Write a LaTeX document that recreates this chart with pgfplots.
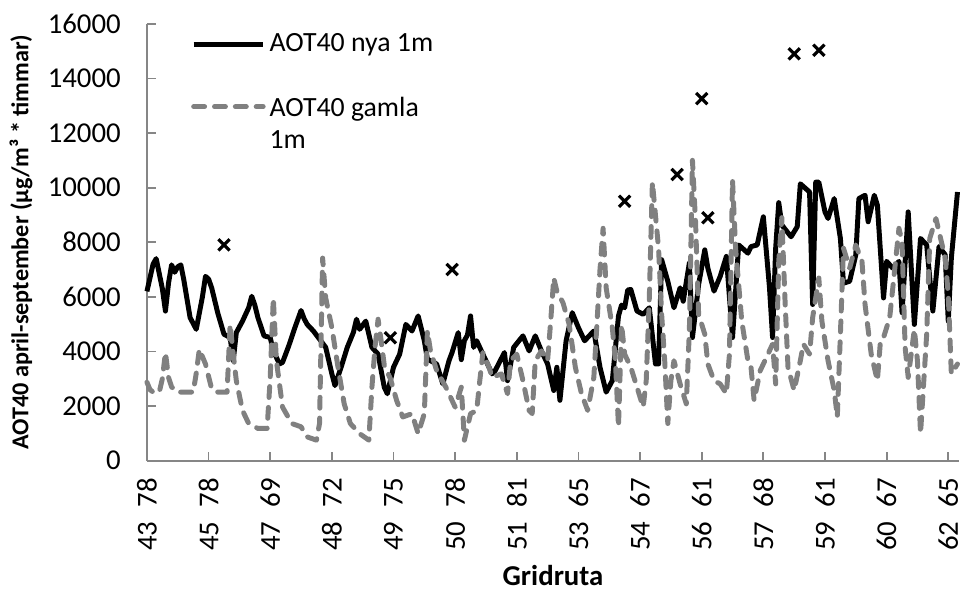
\documentclass[border=0pt]{standalone}
\usepackage{fontspec}
\setmainfont{Carlito}
\usepackage{pgfplots}
\pgfplotsset{compat=1.18}
\usepackage{pgfplotstable}
\definecolor{dgray}{RGB}{128,128,128}
\definecolor{axgray}{RGB}{134,134,134}

\pgfplotstableread{
x y
0 6200
2 7200
3 7400
5 6300
6 5480
7 6500
8 7170
9 6900
10 7100
11 7170
12 6600
14 5240
16 4810
18 6000
19 6750
20 6650
21 6330
23 5400
25 4630
27 4510
28 3660
29 4690
31 5110
33 5600
34 6020
35 5700
36 5240
38 4570
40 4510
41 4020
43 3540
44 3600
46 4200
48 4870
50 5500
51 5200
52 4990
54 4750
56 4450
58 4150
60 3180
61 2750
63 3420
65 4150
67 4700
68 5180
69 4810
71 5110
73 4150
75 3900
77 2690
78 2450
80 3420
82 3900
84 4990
86 4750
88 5300
90 4390
91 3720
94 3540
96 2810
98 3660
99 3960
101 4690
102 3700
103 4400
104 4600
105 5300
106 4150
107 4390
109 3900
112 3180
113 3300
116 3960
117 2930
119 4150
122 4570
124 4020
126 4570
128 4020
130 3540
132 2570
133 3420
134 2210
136 4390
138 5420
140 4870
142 4390
145 4750
147 3420
149 2510
151 2930
153 5300
154 5700
155 5600
156 6250
157 6270
159 5480
161 5360
163 5600
165 3540
166 3540
167 7360
169 6570
171 5600
173 6330
174 5840
176 7240
177 4510
179 6450
181 7720
182 7050
184 6210
186 6750
188 7480
190 4510
192 7900
195 7600
196 7840
198 7900
200 8930
202 6330
203 4510
204 7780
205 9450
206 8630
209 8200
211 8570
212 10140
215 9840
216 5720
217 10200
218 10200
220 9110
221 8870
223 9600
225 8140
226 6500
228 6570
230 7540
231 9600
233 9720
234 8750
236 9720
237 9360
239 5960
240 7300
242 7050
244 7300
245 5420
247 9110
249 4990
251 8140
253 7900
255 5480
257 7840
259 7540
260 5110
261 7420
263 9840
}\nya

\pgfplotstableread{
x y
0 2870
1 2600
2 2510
4 2510
5 3000
6 3960
7 3050
8 2700
10 2510
15 2510
16 3200
17 4080
19 3540
21 2630
23 2510
26 2510
27 4990
28 3900
29 2930
31 1840
33 1360
36 1180
39 1180
40 3050
41 5960
42 3660
44 1960
47 1360
50 1240
52 870
55 750
56 1360
57 7420
58 5960
60 4870
62 3420
64 2080
66 1360
69 990
72 750
73 2690
74 4150
75 5180
76 4390
77 3500
79 3000
81 2210
83 1600
86 1720
88 990
90 1720
91 4750
92 4020
94 3300
97 2690
100 1960
102 2690
103 750
105 1720
107 1840
108 2930
109 3960
111 3420
112 3050
115 3180
117 2450
118 3660
120 3900
122 2930
124 1840
125 1720
126 3660
128 4020
130 3660
131 5110
132 6690
133 6210
135 5780
137 4990
139 3420
141 2450
143 1840
145 3050
146 4990
147 7000
148 8510
149 6330
151 4870
152 3660
153 1240
154 4990
155 3900
157 3420
159 2690
161 1960
162 2930
163 5960
164 10200
166 7780
167 5360
168 3660
169 1360
170 2930
171 3660
173 2810
175 2080
176 4750
177 11000
178 8750
179 5360
181 4630
182 3540
184 2930
186 2810
188 2450
189 3900
190 10270
191 7780
193 5110
195 3660
196 3420
197 2210
199 3300
201 3780
203 4270
204 2810
205 7300
206 8900
207 5960
208 3420
210 2570
212 3660
213 4270
215 3900
216 5240
218 6690
219 5110
221 3660
223 2570
224 1600
225 4630
226 7780
228 7050
230 7900
232 7300
233 5720
235 3900
237 2930
238 4390
239 4510
241 5240
242 6330
244 8510
245 8020
246 4150
247 3050
249 4810
250 3660
251 990
253 4630
254 8140
256 8870
259 7420
260 6080
261 3180
263 3540
}\gamla

\pgfplotstableread{
x y
25 7900
79 4500
99 7000
155 9500
172 10480
180 13260
182 8900
210 14900
218 15030
}\matt

\begin{document}
\fontsize{14.5}{17.5}\selectfont
\begin{tikzpicture}
\begin{axis}[
  scale only axis,
  width=409pt, height=220pt,
  xmin=0, xmax=263.5,
  ymin=0, ymax=16000,
  axis x line*=bottom, axis y line*=left,
  axis line style={axgray, line width=0.9pt},
  tick style={axgray, line width=0.9pt},
  tick align=inside,
  major tick length=4.5pt,
  xtick={0,20,...,260},
  xticklabels={43\enspace78,45\enspace78,47\enspace69,48\enspace72,49\enspace75,50\enspace78,51\enspace81,53\enspace65,54\enspace67,56\enspace61,57\enspace68,59\enspace61,60\enspace67,62\enspace65},
  xticklabel style={rotate=90, anchor=east, inner xsep=8.5pt, inner ysep=0pt},
  ytick={0,2000,...,16000},
  yticklabel style={anchor=east, inner xsep=0pt, xshift=-13pt},
  /pgf/number format/assume math mode=true,
  /pgf/number format/1000 sep={},
  scaled y ticks=false,
  xlabel={\textbf{Gridruta}},
  xlabel style={at={(axis description cs:0.5,-0.2636)}, anchor=center},
  ylabel={\fontsize{12.2}{14}\selectfont\textbf{AOT40 april-september (µg/m³ * timmar)}},
  ylabel style={at={(axis description cs:-0.155,0.5)}, anchor=center},
  legend cell align=left,
  legend style={draw=none, fill=none, font=\fontsize{14}{16.5}\selectfont, at={(axis description cs:0.054,0.989)}, anchor=north west, row sep=15pt, inner sep=0pt},
  legend image code/.code={\draw[#1] (0pt,0pt) -- (35pt,0pt);},
  clip=false,
]
\addplot[black, line width=2.5pt, line join=round] table {\nya};
\addlegendentry{AOT40 nya 1m}
\addplot[dgray, line width=2.5pt, line cap=round, line join=round, dash pattern=on 5.5pt off 5pt] table {\gamla};
\addlegendentry{\begin{tabular}[t]{@{}l@{}}AOT40 gamla\\1m\end{tabular}}
\addplot[forget plot, only marks, black, mark=x, mark size=4pt, mark options={line width=1.6pt}] table {\matt};
\end{axis}
\path (current axis.south west) ++(-72.5pt,-65pt);
\path (current axis.north east) ++(3pt,12pt);
\end{tikzpicture}
\end{document}
